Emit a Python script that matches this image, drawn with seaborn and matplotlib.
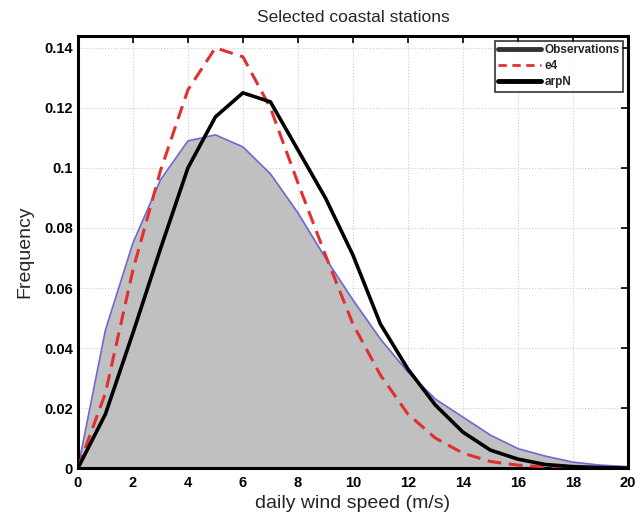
import numpy as np
import pandas as pd
import matplotlib
matplotlib.use("Agg")
import matplotlib.pyplot as plt
import seaborn as sns
from matplotlib.lines import Line2D

# wind speed bins (m/s)
speed = list(range(0, 21))

# observed frequency (grey area)
obs = [0.0, 0.046, 0.075, 0.096, 0.109, 0.111, 0.107, 0.098, 0.085, 0.070, 0.056,
       0.043, 0.032, 0.023, 0.017, 0.011, 0.0065, 0.004, 0.002, 0.001, 0.0005]
# model e4 (red dashed)
e4 = [0.0, 0.025, 0.066, 0.099, 0.126, 0.140, 0.137, 0.120, 0.095, 0.071, 0.048,
      0.031, 0.018, 0.010, 0.005, 0.0022, 0.001, 0.0004, 0.0001, 0.0, 0.0]
# model arpN (black)
arpn = [0.0, 0.018, 0.045, 0.073, 0.100, 0.117, 0.125, 0.122, 0.106, 0.090, 0.071,
        0.048, 0.033, 0.021, 0.012, 0.006, 0.003, 0.0012, 0.0005, 0.0002, 0.0]

df = pd.DataFrame({"speed": speed, "obs": obs, "e4": e4, "arpN": arpn})

sns.set_style("white")
plt.rcParams["font.family"] = ["Liberation Sans", "DejaVu Sans"]

fig = plt.figure(figsize=(6.44, 5.19), dpi=100)
ax = fig.add_axes([0.121, 0.098, 0.854, 0.833])

ax.fill_between(df["speed"], df["obs"], color="#c0c0c0", zorder=1)
sns.lineplot(data=df, x="speed", y="obs", color="#6b6bd6", linewidth=1.2, ax=ax, zorder=2)
ax.axhline(0, color="#5a5ad0", linewidth=2, zorder=2)
sns.lineplot(data=df, x="speed", y="e4", color="#e03030", linewidth=2.2,
             linestyle=(0, (4.5, 2.5)), ax=ax, zorder=3)
sns.lineplot(data=df, x="speed", y="arpN", color="black", linewidth=2.6, ax=ax, zorder=4)

ax.set_xlim(0, 20)
ax.set_ylim(0, 0.144)
ax.set_xticks(range(0, 21, 2))
ax.set_yticks([0, 0.02, 0.04, 0.06, 0.08, 0.1, 0.12, 0.14])
ax.set_yticklabels(["0", "0.02", "0.04", "0.06", "0.08", "0.1", "0.12", "0.14"])
ax.grid(True, linestyle=":", color="#cccccc", linewidth=0.8)
ax.set_axisbelow(True)
ax.tick_params(direction="in", length=5, width=1.2, labelsize=10.5, top=True, right=True,
               colors="black")
ax.tick_params(axis="x", pad=6)
for lab in ax.get_xticklabels() + ax.get_yticklabels():
    lab.set_fontweight("bold")
for sp in ax.spines.values():
    sp.set_linewidth(2.2)
    sp.set_color("black")

ax.set_title("Selected coastal stations", fontsize=12.5, pad=10)
ax.set_xlabel("daily wind speed (m/s)", fontsize=14, labelpad=3)
ax.set_ylabel("Frequency", fontsize=14, labelpad=8)

handles = [Line2D([], [], color="#333333", linewidth=3.5),
           Line2D([], [], color="#e03030", linewidth=2, linestyle=(0, (3, 2))),
           Line2D([], [], color="black", linewidth=3.5)]
leg = ax.legend(handles, ["Observations", "e4", "arpN"], loc="upper right",
                fontsize=8.5, frameon=True, fancybox=False, borderpad=0.3,
                handlelength=3.6, labelspacing=0.35, borderaxespad=0.4,
                handletextpad=0.3)
leg.get_frame().set_edgecolor("black")
leg.get_frame().set_linewidth(1.2)
for t in leg.get_texts():
    t.set_fontweight("bold")

fig.savefig("out.png", dpi=100)
